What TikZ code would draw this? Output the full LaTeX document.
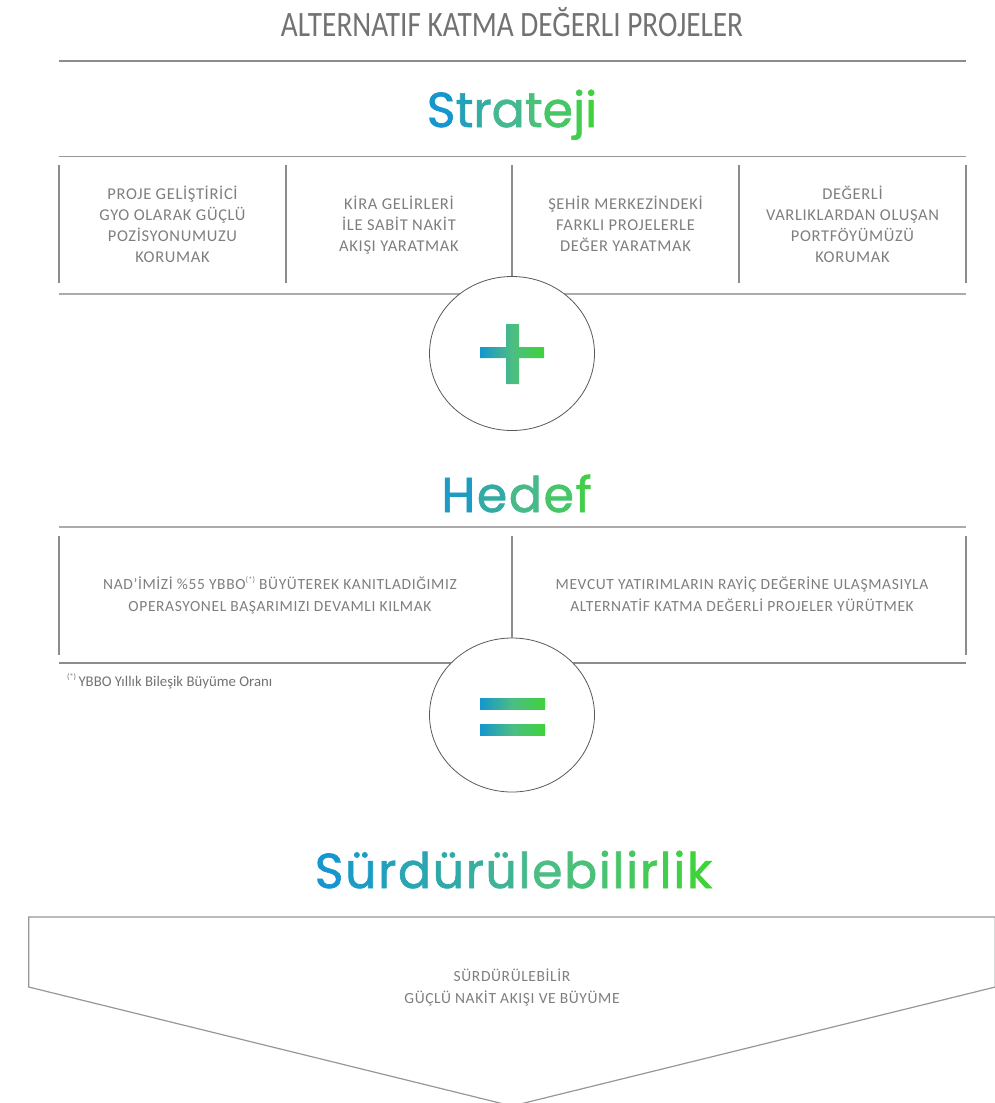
\documentclass[tikz,border=0pt]{standalone}
\usepackage{fontspec}
\usetikzlibrary{shapes.geometric}
\newfontfamily\titlef[FakeStretch=0.82]{Carlito}
\newfontfamily\boxf[LetterSpace=4]{Carlito}
\newfontfamily\notef{Carlito}
\newfontfamily\headf[FakeBold=1.3]{Poppins}
\definecolor{gblue}{HTML}{1596CE}
\definecolor{gmid}{HTML}{4CBD84}
\definecolor{ggreen}{HTML}{3FD23B}
\definecolor{txtgray}{HTML}{7E7E7E}
\definecolor{ttlgray}{HTML}{727272}
\definecolor{linegray}{HTML}{8C8C8C}
\definecolor{lightline}{HTML}{ABABAB}
\newcommand\supast{\raisebox{0.42em}{\fontsize{8}{8}\selectfont(*)}}
\newcommand\cl[2]{\textcolor{#1}{#2}\kern1.6pt}
\tikzset{
  rule/.style={draw=linegray, line width=1.1pt},
  thickrule/.style={draw=lightline, line width=2pt},
  divider/.style={draw=linegray, line width=1.1pt},
  boxtext/.style={text=txtgray, font=\boxf\fontsize{16.5}{21}\selectfont, align=center, inner sep=0pt, anchor=base},
  goaltext/.style={boxtext, font=\boxf\fontsize{15.5}{22}\selectfont},
  heading/.style={font=\headf\fontsize{49}{49}\selectfont, inner sep=0pt, anchor=base},
  ring/.style={ellipse, draw=black!65, line width=0.8pt, fill=white, minimum width=165pt, minimum height=154pt, inner sep=0pt},
  bar/.style={left color=gblue, right color=ggreen, middle color=gmid},
}
\begin{document}
\begin{tikzpicture}[x=1pt,y=-1pt]
\useasboundingbox (0,0) rectangle (995,1103);

% title
\node[anchor=base, text=ttlgray, font=\titlef\fontsize{35.7}{36}\selectfont, inner sep=0pt] (title) at (512,36) {ALTERNATIF KATMA DEĞERLI PROJELER};
\draw[rule] (59,61) -- (966,61);

% Strateji
\node[heading] (strateji) at (512,127) {\textcolor{gblue}{S}\textcolor{gmid!28!gblue}{t}\textcolor{gmid!58!gblue}{r}\textcolor{gmid!86!gblue}{a}\textcolor{ggreen!14!gmid}{t}\textcolor{ggreen!42!gmid}{e}\textcolor{ggreen!72!gmid}{j}\textcolor{ggreen}{i}};
\draw[divider, line width=1.4pt, draw=linegray!90] (59,156.5) -- (966,156.5);
\foreach \x in {59,286,739,966} \draw[divider] (\x,165) -- (\x,283);
\draw[thickrule] (59,293.5) -- (966,293.5);

% (anchor base = baseline of the last line)
\node[boxtext] (s1) at (172.5,262.3) {PROJE GELİŞTİRİCİ\\GYO OLARAK GÜÇLÜ\\POZİSYONUMUZU\\KORUMAK};
\node[boxtext] (s2) at (399,251.3) {KİRA GELİRLERİ\\İLE SABİT NAKİT\\AKIŞI YARATMAK};
\node[boxtext] (s3) at (625.5,251.3) {ŞEHİR MERKEZİNDEKİ\\FARKLI PROJELERLE\\DEĞER YARATMAK};
\node[boxtext] (s4) at (852.5,262.3) {DEĞERLİ\\VARLIKLARDAN OLUŞAN\\PORTFÖYÜMÜZÜ\\KORUMAK};

% plus circle
\node[ring] (c1) at (512,353.5) {};
\coordinate (m1) at (512,165);
\draw[divider] (m1) -- (c1.north);
\shade[bar] (480,347) rectangle (544,358) (506,324) rectangle (519,384);

% Hedef
\node[heading] (hedef) at (516.5,512) {\cl{gmid!15!gblue}{H}\cl{gmid!55!gblue}{e}\cl{gmid!92!gblue}{d}\cl{ggreen!40!gmid}{e}\textcolor{ggreen!80!gmid}{f}};
\draw[thickrule] (59,527) -- (966,527);
\foreach \x in {59,966} \draw[divider] (\x,536) -- (\x,655);
\draw[rule] (59,663) -- (966,663);

\node[goaltext] (h1) at (280,611.5) {NAD’İMİZİ \%55 YBBO\supast{} BÜYÜTEREK KANITLADIĞIMIZ\\OPERASYONEL BAŞARIMIZI DEVAMLI KILMAK};
\node[goaltext] (h2) at (742,611.5) {MEVCUT YATIRIMLARIN RAYİÇ DEĞERİNE ULAŞMASIYLA\\ALTERNATİF KATMA DEĞERLİ PROJELER YÜRÜTMEK};

\node[anchor=base west, text=ttlgray, font=\notef\fontsize{14.8}{15}\selectfont, inner sep=0pt] (note) at (67,686) {\supast\,YBBO Yıllık Bileşik Büyüme Oranı};

% equals circle
\node[ring] (c2) at (512,715) {};
\coordinate (m2) at (512,536);
\draw[divider] (m2) -- (c2.north);
\shade[bar] (480,698) rectangle (545,709);
\shade[bar] (480,724) rectangle (545,735);

% Surdurulebilirlik
\node[heading] (surd) at (513.5,888) {\cl{gblue}{S}\cl{gmid!12!gblue}{ü}\cl{gmid!25!gblue}{r}\cl{gmid!38!gblue}{d}\cl{gmid!50!gblue}{ü}\cl{gmid!62!gblue}{r}\cl{gmid!75!gblue}{ü}\cl{gmid!88!gblue}{l}\cl{gmid}{e}\cl{ggreen!12!gmid}{b}\cl{ggreen!25!gmid}{i}\cl{ggreen!38!gmid}{l}\cl{ggreen!50!gmid}{i}\cl{ggreen!62!gmid}{r}\cl{ggreen!75!gmid}{l}\cl{ggreen!88!gmid}{i}\textcolor{ggreen}{k}};

\draw[draw=linegray!90, line width=1.2pt, line join=miter] (28.7,917) -- (995.3,917) -- (995.3,987) -- (512,1106) -- (28.7,987) -- cycle;
\node[boxtext, font=\boxf\fontsize{15.5}{21.5}\selectfont] (sd) at (512,1003) {SÜRDÜRÜLEBİLİR\\GÜÇLÜ NAKİT AKIŞI VE BÜYÜME};
\end{tikzpicture}
\end{document}
